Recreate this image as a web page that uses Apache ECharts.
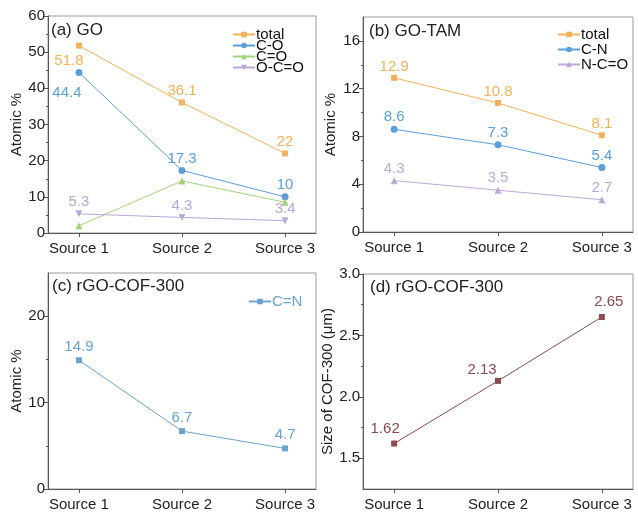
<!DOCTYPE html>
<html><head><meta charset="utf-8">
<script src="https://cdn.jsdelivr.net/npm/echarts@6/dist/echarts.min.js"></script>
<style>html,body{margin:0;padding:0;background:#fff}#c{width:638px;height:512px}</style>
</head><body><div id="c"></div>
<script>
// ---- data ----
const categories = ['Source 1', 'Source 2', 'Source 3'];
// (a) GO
const goTotal = [51.8, 36.1, 22];
const goCO = [44.4, 17.3, 10];
const goCdO = [2.0, 14.4, 8.5];
const goOCdO = [5.3, 4.3, 3.4];
// (b) GO-TAM
const tamTotal = [12.9, 10.8, 8.1];
const tamCN = [8.6, 7.3, 5.4];
const tamNCdO = [4.3, 3.5, 2.7];
// (c) rGO-COF-300
const cofCdN = [14.9, 6.7, 4.7];
// (d) rGO-COF-300 size
const cofSize = [1.62, 2.13, 2.65];
// tick values
const yTicksA = [0, 10, 20, 30, 40, 50, 60];
const yMinorA = [5, 15, 25, 35, 45, 55];
const yTicksB = [0, 4, 8, 12, 16];
const yMinorB = [2, 6, 10, 14];
const yTicksC = [0, 10, 20];
const yMinorC = [5, 15];
const yTicksD = [1.5, 2.0, 2.5, 3.0];
const yMinorD = [1.75, 2.25, 2.75];
const xTicks = [1, 2, 3];

// ---- styles ----
const FONT = 'Liberation Sans, Arial, sans-serif';
const C = {
  total: '#f0b25c', co: '#5c9ed6', cdo: '#a2d27c', ocdo: '#b7a8d8',
  cn: '#5c9ed6', ncdo: '#bba9d6', cdn: '#6aa3cc', size: '#8a4a50'
};
const grids = [
  {left: 48, top: 16, width: 268, height: 217},
  {left: 363, top: 17, width: 270, height: 215},
  {left: 48, top: 273, width: 268, height: 217},
  {left: 363, top: 274, width: 270, height: 215}
];
const yCfg = [
  {min: 0, max: 60, ticks: yTicksA, minor: yMinorA, name: 'Atomic %', gap: 20, fmt: v => String(v)},
  {min: 0, max: 18, ticks: yTicksB, minor: yMinorB, name: 'Atomic %', gap: 25, fmt: v => String(v)},
  {min: 0, max: 25, ticks: yTicksC, minor: yMinorC, name: 'Atomic %', gap: 20, fmt: v => String(v)},
  {min: 1.25, max: 3.0, ticks: yTicksD, minor: yMinorD, name: 'Size of COF-300 (\u03bcm)', gap: 28, fmt: v => v.toFixed(1)}
];

const xAxes = grids.map((g, i) => ({
  type: 'value', gridIndex: i, min: 0.7, max: 3.3,
  axisLine: {show: true, lineStyle: {color: '#555', width: 1}},
  axisTick: {show: true, customValues: xTicks, length: 4, lineStyle: {color: '#555'}},
  axisLabel: {customValues: xTicks, formatter: v => categories[Math.round(v) - 1], fontSize: 15, color: '#222', fontFamily: FONT, margin: 8},
  splitLine: {show: false}
}));
const yAxes = yCfg.map((c, i) => ({
  type: 'value', gridIndex: i, min: c.min, max: c.max, position: 'left',
  axisLine: {show: true, lineStyle: {color: '#555', width: 1}},
  axisTick: {show: true, customValues: c.ticks, length: 4, lineStyle: {color: '#555'}},
  axisLabel: {customValues: c.ticks, formatter: c.fmt, fontSize: 15, color: '#222', fontFamily: FONT, margin: 3},
  splitLine: {show: false},
  name: c.name, nameLocation: 'middle', nameGap: c.gap,
  nameTextStyle: {fontSize: 15, color: '#222', fontFamily: FONT}
})).concat(yCfg.map((c, i) => ({
  type: 'value', gridIndex: i, min: c.min, max: c.max, position: 'left', offset: 0,
  axisLine: {show: false},
  axisTick: {show: true, customValues: c.minor, length: 2, lineStyle: {color: '#555'}},
  axisLabel: {show: false},
  splitLine: {show: false}
})));

// per-point label overrides (style only)
const labelOverrides = {
  goTotal: {0: {position: 'bottom', offset: [-10, 4]}},
  goCO: {0: {position: 'bottom', offset: [-12, 8]}},
  cofSize: {0: {offset: [-9, -1]}, 1: {offset: [-16, 2]}, 2: {position: 'top', offset: [7, -2]}}
};

function mk(name, key, values, gi, color, symbol, opts) {
  opts = opts || {};
  const ov = labelOverrides[key] || {};
  return {
    type: 'line', name: name, xAxisIndex: gi, yAxisIndex: gi,
    data: values.map((v, i) => {
      const d = {value: [xTicks[i], v]};
      if (ov[i]) d.label = ov[i];
      return d;
    }),
    symbol: symbol, symbolSize: opts.size || 6, symbolRotate: opts.rotate || 0,
    lineStyle: {color: color, width: 1},
    itemStyle: {color: color},
    label: opts.noLabel ? {show: false} : {
      show: true, position: 'top', distance: opts.dist != null ? opts.dist : 1,
      color: color, fontSize: 15, fontFamily: FONT,
      formatter: p => String(p.value[1])
    },
    emphasis: {disabled: true},
    animation: false
  };
}

const series = [
  mk('total', 'goTotal', goTotal, 0, C.total, 'rect'),
  mk('C-O', 'goCO', goCO, 0, C.co, 'circle', {size: 7}),
  mk('C=O', 'goCdO', goCdO, 0, C.cdo, 'triangle', {noLabel: true, size: 7}),
  mk('O-C=O', 'goOCdO', goOCdO, 0, C.ocdo, 'triangle', {rotate: 180, size: 7}),
  mk('total ', 'tamTotal', tamTotal, 1, C.total, 'rect'),
  mk('C-N', 'tamCN', tamCN, 1, C.cn, 'circle', {size: 7}),
  mk('N-C=O', 'tamNCdO', tamNCdO, 1, C.ncdo, 'triangle', {size: 7}),
  mk('C=N', 'cofCdN', cofCdN, 2, C.cdn, 'rect', {dist: 3}),
  mk('size', 'cofSize', cofSize, 3, C.size, 'rect', {dist: 3})
];

const legendBase = {
  orient: 'vertical', itemWidth: 22, itemHeight: 7, itemGap: 0,
  textStyle: {fontSize: 15, color: '#111', fontFamily: FONT, lineHeight: 11, padding: [0, 0, 0, -4]},
  selectedMode: false, padding: 0
};

const option = {
  backgroundColor: '#fff',
  animation: false,
  grid: grids.map(g => Object.assign({show: true, borderColor: '#999', borderWidth: 1, containLabel: false}, g)),
  xAxis: xAxes,
  yAxis: yAxes,
  title: [
    {text: '(a) GO', left: 51, top: 22},
    {text: '(b) GO-TAM', left: 369, top: 23},
    {text: '(c) rGO-COF-300', left: 52, top: 278},
    {text: '(d) rGO-COF-300', left: 370, top: 279}
  ].map(t => Object.assign(t, {padding: 0, textStyle: {fontSize: 17, fontWeight: 'normal', color: '#222', fontFamily: FONT}})),
  legend: [
    Object.assign({}, legendBase, {data: ['total', 'C-O', 'C=O', 'O-C=O'], left: 232, top: 27, itemGap: -4}),
    Object.assign({}, legendBase, {data: ['total ', 'C-N', 'N-C=O'], left: 557, top: 27, itemGap: 0,
      formatter: n => n.trim()}),
    Object.assign({}, legendBase, {data: ['C=N'], left: 248, top: 294, textStyle: Object.assign({}, legendBase.textStyle, {color: C.cdn})})
  ],
  series: series
};

const chart = echarts.init(document.getElementById('c'), null, {renderer: 'canvas'});
chart.setOption(option);
</script></body></html>
